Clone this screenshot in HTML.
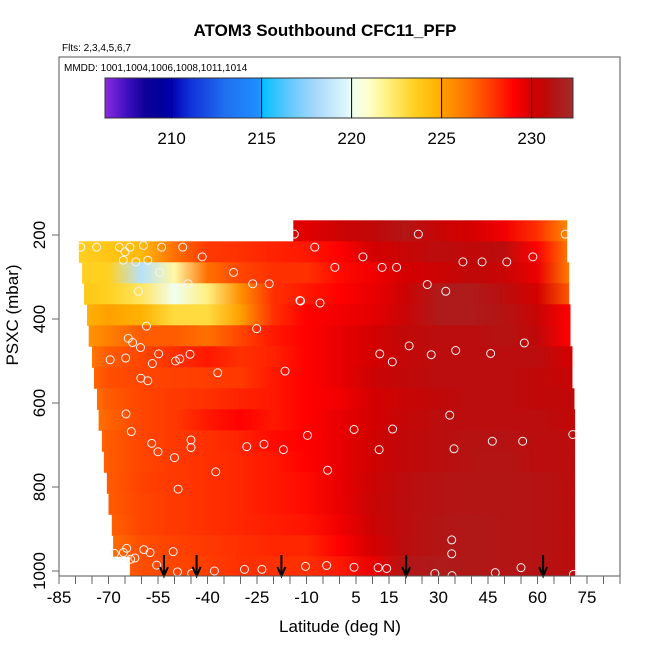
<!DOCTYPE html>
<html><head><meta charset="utf-8"><style>
html,body{margin:0;padding:0;background:#fff;}
svg{display:block;font-family:"Liberation Sans",Arial,sans-serif;}
</style></head><body>
<svg id="chart" width="650" height="650" viewBox="0 0 650 650">
<defs id="defs"></defs>
<text x="325" y="36" text-anchor="middle" font-size="17" font-weight="bold">ATOM3 Southbound CFC11_PFP</text>
<text x="62" y="51" font-size="10">Flts: 2,3,4,5,6,7</text>
<g id="heat"></g>
<g id="pts"></g>
<g id="arrows"></g>
<rect x="59" y="57" width="561" height="519" fill="none" stroke="#555" stroke-width="1"/>
<text x="64" y="71" font-size="10">MMDD: 1001,1004,1006,1008,1011,1014</text>
<g id="cbar"></g>
<g id="xaxis"></g>
<g id="yaxis"></g>
<text x="340" y="632" text-anchor="middle" font-size="17">Latitude (deg N)</text>
<text transform="translate(18,315) rotate(-90)" text-anchor="middle" font-size="17">PSXC (mbar)</text>
</svg>
<script>
const latNodes=[-80,-70,-60,-50,-40,-30,-20,-10,0,10,20,30,40,50,60,70];
const rowPressures=[190,240,290,340,390,440,490,540,590,640,690,740,790,840,890,940,990];
const rowLeftLat=[-14,-79,-78,-77.4,-76.5,-76,-75,-74.4,-73.5,-73,-72,-71.4,-70.5,-70,-69,-68.6,-63.5];
const rowRightLat=[69,69,69.6,69.6,70,70,70.6,70.6,71.2,71.4,71.4,71.4,71.4,71.4,71.4,71.4,71.4];
const rowValues=[
[230,230,230,230,230,230,230,229.7,230.3,230.8,231.3,230.5,230,229.3,228,225.5],
[223.5,224,224.5,226.5,227.8,228,228.3,228.5,229,230,230.5,231,230.8,231,229,226],
[223.5,223.5,218.5,221.5,226.5,227.5,228,228,228.8,229.3,230,230.3,230.8,230.5,229.5,226],
[224,223.5,222.5,220,222,225.5,228,228.5,229,229.5,230.3,231.5,231.5,231,230,227],
[224.5,225,224.8,223,223,225,228,229,229.3,229.6,230.5,231.5,231.5,231.2,230.5,229],
[225,226,227,227,226.5,227.5,228.5,229,229.5,230,230.8,231,231,231.2,230.8,229],
[225.5,227,227.5,228,228.5,228,228.3,229,229.5,230,230.7,231,231,231,231,230],
[226,227.3,227.5,227.6,227.7,227.8,228.5,229,229.5,230.3,230.8,231,231,231,230.8,230.5],
[225.5,227,227.5,227.8,228,228.3,228.5,229,229.3,230,230.5,230.8,231,231,230.8,230.8],
[225.5,226.8,227.5,227.8,228.5,229,228.5,229,229.5,230,230.6,231,231,231,231,230.8],
[226,227,227.5,227.8,228,228.3,228.8,229,229.5,230.2,230.8,231,231.2,231.2,231,231],
[226,227,227.5,227.8,228,228.2,228.5,229,229.5,230.2,230.8,231,231.2,231.3,231,231],
[226,227,227.6,227.8,228,228.2,228.5,228.8,229.5,230.3,231,231.2,231.3,231.3,231.2,231],
[226,227,227.5,227.8,228,228.2,228.5,228.8,229.5,230.5,231,231.2,231.3,231.3,231.2,231],
[226,226.8,227.5,227.8,228,228.2,228.4,228.6,229.3,230.3,231,231.3,231.4,231.3,231.2,231],
[226,226.5,227.3,227.6,227.8,228,228.2,228.2,229,230,231,231.3,231.4,231.3,231.2,231],
[226,226.5,227.3,227.5,227.7,228,228,228,228.5,229.5,231.3,231.5,231.4,231.3,231.2,231]];
const sampleLat=[-78.4,-73.6,-66.7,-63.5,-59.4,-53.9,-47.5,-41.6,-65,-65.5,-61.7,-58.1,-54.5,-32.1,-45.9,-26.3,-21.3,-60.9,-12,-5.9,-58.5,-25.1,-64,-62.7,-60.3,-69.5,-64.8,-54.8,-56.7,-49.7,-48.4,-45.3,-36.9,-16.5,-60.2,-58.1,-64.7,-63.1,-56.9,-45,-45,-55,-28.1,-22.9,-17,-9.7,-50,-37.5,-3.6,-48.9,-64.5,-59.3,-57.4,-50.4,-68.2,-65.5,-63.3,-62,-55.4,-49.1,-37.9,-28.8,-23.5,-10.3,-3.9,-44.8,-13.7,23.9,68.4,-7.5,7.1,37.4,43.2,50.7,58.6,-1.4,12.9,17.3,26.6,32.2,-11.8,21.1,12.2,16,27.8,35.2,45.8,56,33.4,4.4,16.1,46.3,55.5,70.7,12,34.7,34,34,4.4,11.7,14.3,28.9,34.1,47.2,55,70.9];
const samplePres=[229,229,229,229,225,229,229,252,240,260,264,260,289,289,316,316,316,334,356,362,417,423,446,456,468,497,493,483,506,500,495,484,528,524,541,547,626,668,696,688,706,716,704,698,711,677,730,764,760,805,946,949,956,954,958,956,972,969,986,1002,1000,996,996,989,987,1006,198,198,198,229,252,264,264,264,252,277,277,277,318,334,357,464,483,502,485,475,482,457,629,663,662,691,691,675,711,709,926,959,991,992,994,1006,1011,1004,992,1008];
const arrowLat=[-53.2,-43.3,-17.6,20.2,61.7];
const cbarTicks=[210,215,220,225,230];
const xTickLabels=[-85,-70,-55,-40,-25,-10,5,15,30,45,60,75];
const yTickLabels=[200,400,600,800,1000];

const NS='http://www.w3.org/2000/svg';
const xS=l=>59+(l+85)*3.3;
const yS=p=>235+(p-200)*0.42;
const cS=v=>105+(v-206.3)*18;
const stops=[[206.3,'#8a2be2'],[207.5,'#4010c0'],[208.5,'#10009a'],[209.5,'#00009a'],[210,'#0000b4'],[211,'#1030d8'],[213,'#2070f0'],[214.9,'#1e90ff'],[215,'#00bfff'],[216.5,'#60c8ff'],[218,'#a8d8f8'],[219.8,'#e0f8ff'],[220,'#f0fff0'],[221,'#ffffc8'],[222,'#fff080'],[223.5,'#ffd020'],[224.9,'#ffb000'],[225,'#ffa000'],[226.5,'#ff7000'],[228,'#ff3000'],[229,'#ff0000'],[230,'#d40000'],[230.8,'#c00808'],[231.4,'#b01818'],[232.3,'#a52a2a']];
function hex(h){return [1,3,5].map(i=>parseInt(h.substr(i,2),16));}
function col(v){
  if(v<=stops[0][0])return stops[0][1];
  for(let i=1;i<stops.length;i++){if(v<=stops[i][0]){const a=stops[i-1],b=stops[i];const t=(v-a[0])/(b[0]-a[0]);const A=hex(a[1]),B=hex(b[1]);return 'rgb('+A.map((c,k)=>Math.round(c+(B[k]-c)*t)).join(',')+')';}}
  return stops[stops.length-1][1];
}
function mk(tag,attrs,parent){const e=document.createElementNS(NS,tag);for(const k in attrs)e.setAttribute(k,attrs[k]);parent.appendChild(e);return e;}
const defs=document.getElementById('defs');
const heat=document.getElementById('heat');
mk('clipPath',{id:'plotclip'},defs);
mk('rect',{x:59,y:57,width:561,height:519},document.getElementById('plotclip'));
heat.setAttribute('clip-path','url(#plotclip)');
rowPressures.forEach((p,r)=>{
  const g=mk('linearGradient',{id:'rg'+r,gradientUnits:'userSpaceOnUse',x1:xS(latNodes[0]),x2:xS(latNodes[latNodes.length-1]),y1:0,y2:0},defs);
  latNodes.forEach((l,i)=>{mk('stop',{offset:(i/(latNodes.length-1)).toFixed(4),'stop-color':col(rowValues[r][i])},g);});
  const x0=xS(rowLeftLat[r]),x1=xS(rowRightLat[r]);
  const rc=mk('rect',{x:x0,y:yS(p-25),width:x1-x0,height:yS(p+25)-yS(p-25)+0.5,fill:'url(#rg'+r+')'},heat);
  
  
});
const pts=document.getElementById('pts');
pts.setAttribute('clip-path','url(#plotclip)');
sampleLat.forEach((l,i)=>{
  const c=mk('circle',{cx:xS(l),cy:yS(samplePres[i]),r:4,fill:'none',stroke:'#f4f4f4','stroke-width':1},pts);
  
  
});
const arrows=document.getElementById('arrows');
arrowLat.forEach(l=>{
  const x=xS(l);
  const a=mk('path',{d:`M${x},555 L${x},576 M${x-4},567 L${x},576 L${x+4},567`,stroke:'#000','stroke-width':2,fill:'none'},arrows);
  
  
});
const cb=document.getElementById('cbar');
const cg=mk('linearGradient',{id:'cbg',gradientUnits:'userSpaceOnUse',x1:cS(206.3),x2:cS(232.3),y1:0,y2:0},defs);
stops.forEach(s=>{mk('stop',{offset:((s[0]-206.3)/26).toFixed(4),'stop-color':s[1]},cg);});
const cbr=mk('rect',{x:cS(206.3),y:78,width:cS(232.3)-cS(206.3),height:40,fill:'url(#cbg)',stroke:'#333','stroke-width':1},cb);


cbarTicks.forEach(v=>{
  const ln=mk('line',{x1:cS(v),x2:cS(v),y1:78,y2:118,stroke:'#000','stroke-width':1},cb);
  
  
  const t=mk('text',{x:cS(v),y:144,'text-anchor':'middle','font-size':17},cb);
  t.textContent=v;
  
  
});
const xa=document.getElementById('xaxis');
for(let l=-85;l<=85;l+=5){
  const ln=mk('line',{x1:xS(l),x2:xS(l),y1:576,y2:584,stroke:'#666','stroke-width':1},xa);
  
  
}
xTickLabels.forEach(l=>{
  const t=mk('text',{x:xS(l),y:603,'text-anchor':'middle','font-size':17},xa);
  t.textContent=l;
  
  
});
const ya=document.getElementById('yaxis');
yTickLabels.forEach(p=>{
  const ln=mk('line',{x1:52,x2:59,y1:yS(p),y2:yS(p),stroke:'#666','stroke-width':1},ya);
  
  
  const t=mk('text',{transform:`translate(45,${yS(p)}) rotate(-90)`,'text-anchor':'middle','font-size':17},ya);
  t.textContent=p;
  
  
});
</script>
</body></html>
